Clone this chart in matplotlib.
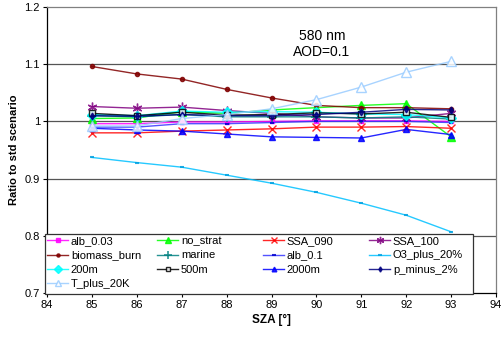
import matplotlib
matplotlib.use("Agg")
import matplotlib.pyplot as plt
from matplotlib.patches import Rectangle
from matplotlib.legend import Legend

plt.rcParams['font.family'] = ['Liberation Sans', 'DejaVu Sans']

sza = [85, 86, 87, 88, 89, 90, 91, 92, 93]

alb_003 = [0.996, 0.996, 0.999, 0.999, 1.000, 1.001, 1.001, 1.001, 1.000]
no_strat = [1.005, 1.006, 1.017, 1.014, 1.020, 1.024, 1.028, 1.031, 0.973]
ssa_090 = [0.980, 0.980, 0.983, 0.985, 0.987, 0.990, 0.990, 0.991, 0.988]
ssa_100 = [1.026, 1.023, 1.025, 1.019, 1.014, 1.008, 1.006, 1.006, 1.014]
biomass_burn = [1.096, 1.083, 1.074, 1.056, 1.041, 1.028, 1.024, 1.024, 1.022]
marine = [1.010, 1.008, 1.012, 1.008, 1.008, 1.008, 1.006, 1.008, 1.004]
alb_01 = [0.990, 0.990, 0.996, 0.996, 0.998, 1.000, 1.000, 1.000, 0.998]
o3_plus = [0.937, 0.928, 0.920, 0.906, 0.892, 0.876, 0.857, 0.836, 0.807]
m200 = [1.012, 1.010, 1.018, 1.016, 1.017, 1.016, 1.013, 1.012, 1.006]
m500 = [1.014, 1.010, 1.016, 1.011, 1.012, 1.015, 1.013, 1.016, 1.007]
m2000 = [0.988, 0.985, 0.983, 0.978, 0.973, 0.972, 0.971, 0.986, 0.977]
p_minus = [1.010, 1.009, 1.012, 1.010, 1.010, 1.012, 1.016, 1.021, 1.020]
t_plus = [0.992, 0.992, 1.005, 1.012, 1.022, 1.038, 1.060, 1.086, 1.105]

labels = ['alb_0.03', 'no_strat', 'SSA_090', 'SSA_100',
          'biomass_burn', 'marine', 'alb_0.1', 'O3_plus_20%',
          '200m', '500m', '2000m', 'p_minus_2%', 'T_plus_20K']
series = [alb_003, no_strat, ssa_090, ssa_100, biomass_burn, marine, alb_01,
          o3_plus, m200, m500, m2000, p_minus, t_plus]

styles = [
    dict(color='#FF00FF', marker='s', ms=3.5, mfc='#FF00FF', mec='#FF00FF'),
    dict(color='#00FF00', marker='^', ms=6, mfc='#00FF00', mec='#00FF00'),
    dict(color='#FF0000', marker='x', ms=6, mfc='#FF0000', mec='#FF0000', mew=1.0),
    dict(color='#800080', marker=(6, 2, 0), ms=7, mfc='#800080', mec='#800080', mew=1.0),
    dict(color='#800000', marker='o', ms=3, mfc='#800000', mec='#800000'),
    dict(color='#008080', marker='+', ms=7, mfc='#008080', mec='#008080', mew=1.2),
    dict(color='#3535FF', marker='_', ms=3, mfc='#0000CC', mec='#0000CC', mew=1.5),
    dict(color='#00C0FF', marker='_', ms=3, mfc='#00A0E0', mec='#00A0E0', mew=1.5),
    dict(color='#00FFFF', marker='D', ms=5, mfc='#00FFFF', mec='#00FFFF'),
    dict(color='#000000', marker='s', ms=4, mfc='white', mec='#000000', mew=1.0),
    dict(color='#0000FF', marker='^', ms=4.5, mfc='#0000FF', mec='#0000FF'),
    dict(color='#000080', marker='d', ms=3.5, mfc='#000080', mec='#000080'),
    dict(color='#99CCFF', marker='^', ms=6.5, mfc='white', mec='#99CCFF', mew=1.0),
]

fig = plt.figure(figsize=(5.02, 3.45), dpi=100)
ax = fig.add_axes([47/502, 1 - 293/345, 449/502, 286/345])

handles = []
for lab, ys, st in zip(labels, series, styles):
    st = dict(st)
    col = st.pop('color')
    h, = ax.plot(sza, ys, color=col, lw=1.0, alpha=0.85, label=lab, **st)
    handles.append(h)

ax.set_xlim(84, 94)
ax.set_ylim(0.7, 1.2)
ax.set_xticks(range(84, 95))
ax.set_yticks([0.7, 0.8, 0.9, 1.0, 1.1, 1.2])
ax.set_yticklabels(['0.7', '0.8', '0.9', '1', '1.1', '1.2'])
ax.tick_params(axis='both', labelsize=8, direction='out', length=3, width=0.8,
               colors='black', pad=2)
for y in [0.8, 0.9, 1.0, 1.1]:
    ax.axhline(y, color='#555555', lw=0.9, zorder=0)
for s in ['top', 'right']:
    ax.spines[s].set_color('#808080')
    ax.spines[s].set_linewidth(0.9)
for s in ['left', 'bottom']:
    ax.spines[s].set_color('black')
    ax.spines[s].set_linewidth(0.9)

ax.set_xlabel('SZA [°]', fontsize=8.5, fontweight='bold', labelpad=3)
ax.set_ylabel('Ratio to std scenario', fontsize=8, fontweight='bold', labelpad=4)

ax.text(90.12, 1.136, '580 nm\nAOD=0.1', ha='center', va='center', fontsize=10,
        linespacing=1.2)

# legend frame
lx0, lx1 = (45 - 47) / 449, (473 - 47) / 449
ly0, ly1 = (293 - 294) / 286, (293 - 234) / 286
frame = Rectangle((lx0, ly0), lx1 - lx0, ly1 - ly0, transform=ax.transAxes,
                  facecolor='white', edgecolor='#333333', lw=0.9, zorder=5,
                  clip_on=False)
ax.add_patch(frame)

col_x = [47, 157, 263, 369]
for j in range(4):
    idx = [i for i in range(j, len(labels), 4)]
    leg = Legend(ax, [handles[i] for i in idx], [labels[i] for i in idx],
                 loc='upper left',
                 bbox_to_anchor=((col_x[j] - 47) / 449, (293 - 236) / 286),
                 frameon=False, fontsize=8, handlelength=1.9,
                 handletextpad=0.25, labelspacing=0.4, borderpad=0.0,
                 borderaxespad=0.0, markerscale=0.75)
    leg.set_zorder(6)
    ax.add_artist(leg)

fig.savefig('out.png', dpi=100)
